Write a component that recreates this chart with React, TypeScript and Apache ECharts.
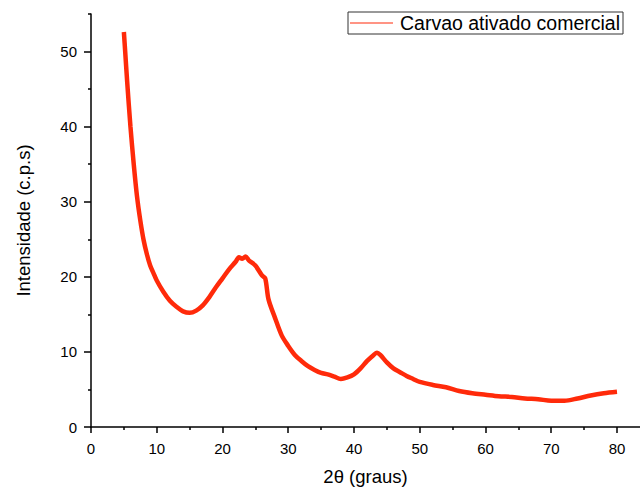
import React, { useEffect, useRef } from "react";
import * as echarts from "echarts";

const seriesName = "Carvao ativado comercial";
const twoTheta = [
  5.0, 5.2, 5.5, 6.0, 6.5, 7.0, 7.5, 8.0, 8.5, 9.0, 9.5, 10, 11, 12, 13, 14, 15, 16, 17, 18, 19, 20,
  21, 22, 22.5, 23, 23.5, 24, 25, 26, 26.5, 27, 28, 29, 30, 31, 32, 33, 34, 35, 36, 37, 38, 39, 40,
  41, 42, 43, 43.5, 44, 45, 46, 47, 48, 49, 50, 52, 54, 56, 58, 60, 62, 64, 66, 68, 70, 72, 74, 76,
  78, 80,
];
const intensity = [
  52.6, 50, 46, 40, 35, 30.7, 27.5, 24.9, 23.0, 21.5, 20.5, 19.5, 18.0, 16.8, 16.0, 15.4, 15.2, 15.5,
  16.2, 17.3, 18.6, 19.8, 21.0, 22.0, 22.6, 22.4, 22.7, 22.2, 21.5, 20.2, 19.8, 17.0, 14.5, 12.2,
  10.8, 9.6, 8.8, 8.1, 7.6, 7.2, 7.0, 6.7, 6.4, 6.6, 7.0, 7.8, 8.8, 9.6, 9.9, 9.6, 8.6, 7.8, 7.3,
  6.8, 6.4, 6.0, 5.6, 5.3, 4.8, 4.5, 4.3, 4.1, 4.0, 3.8, 3.7, 3.5, 3.5, 3.8, 4.2, 4.5, 4.7,
];
const xMajorTicks = [0, 10, 20, 30, 40, 50, 60, 70, 80];
const xMinorTicks = [5, 15, 25, 35, 45, 55, 65, 75];
const yMajorTicks = [0, 10, 20, 30, 40, 50];
const yMinorTicks = [5, 15, 25, 35, 45, 55];

const FONT = "'Liberation Sans', Arial, sans-serif";

export default function App() {
  const ref = useRef<HTMLDivElement>(null);
  useEffect(() => {
    document.body.style.margin = "0";
    const chart = echarts.init(ref.current!, null, { renderer: "svg" });
    const data = twoTheta.map((x, i) => [x, intensity[i]]);
    const axisLine = { show: true, lineStyle: { color: "#000", width: 1.5 } };
    chart.setOption({
      animation: false,
      backgroundColor: "#fff",
      textStyle: { fontFamily: FONT },
      grid: { left: 91, top: 14, right: 0, bottom: 61, containLabel: false, outerBoundsMode: "none" },
      legend: {
        left: 348,
        top: 12,
        padding: [1, 3, 1, 2],
        borderColor: "#333",
        borderWidth: 1,
        icon: "rect",
        itemWidth: 43,
        itemHeight: 1,
        itemGap: 4,
        textStyle: { fontFamily: FONT, fontSize: 19.5, color: "#000", padding: [0, 0, 0, 2] },
        data: [{ name: seriesName }],
      },
      xAxis: [
        {
          type: "value",
          min: 0,
          max: 83.5,
          interval: 10,
          position: "bottom",
          name: "2θ (graus)",
          nameLocation: "middle",
          nameGap: 40,
          nameTextStyle: { fontFamily: FONT, fontSize: 18.5, color: "#000" },
          axisLine,
          axisTick: { show: true, length: 6, lineStyle: { color: "#000", width: 1.5 }, customValues: xMajorTicks },
          axisLabel: { fontFamily: FONT, fontSize: 15, color: "#000", margin: 14, customValues: xMajorTicks },
          splitLine: { show: false },
        },
        {
          type: "value",
          min: 0,
          max: 83.5,
          interval: 10,
          position: "bottom",
          axisLine: { show: false },
          axisTick: { show: true, length: 3, lineStyle: { color: "#000", width: 1.5 }, customValues: xMinorTicks },
          axisLabel: { show: false },
          splitLine: { show: false },
        },
      ],
      yAxis: [
        {
          type: "value",
          min: 0,
          max: 55,
          interval: 10,
          position: "left",
          name: "Intensidade (c.p.s)",
          nameLocation: "middle",
          nameGap: 58,
          nameTextStyle: { fontFamily: FONT, fontSize: 18.5, color: "#000" },
          axisLine,
          axisTick: { show: true, length: 7, lineStyle: { color: "#000", width: 1.5 }, customValues: yMajorTicks },
          axisLabel: { fontFamily: FONT, fontSize: 15, color: "#000", margin: 14, customValues: yMajorTicks },
          splitLine: { show: false },
        },
        {
          type: "value",
          min: 0,
          max: 55,
          interval: 10,
          position: "left",
          axisLine: { show: false },
          axisTick: { show: true, length: 3, lineStyle: { color: "#000", width: 1.5 }, customValues: yMinorTicks },
          axisLabel: { show: false },
          splitLine: { show: false },
        },
      ],
      series: [
        {
          name: seriesName,
          type: "line",
          xAxisIndex: 0,
          yAxisIndex: 0,
          data,
          symbol: "none",
          smooth: 0.3,
          lineStyle: { color: "#ff2a0a", width: 4.5 },
          itemStyle: { color: "#ff2a0a" },
        },
      ],
    });
    return () => chart.dispose();
  }, []);
  return <div ref={ref} style={{ position: "fixed", left: 0, top: 0, width: 640, height: 488 }} />;
}
